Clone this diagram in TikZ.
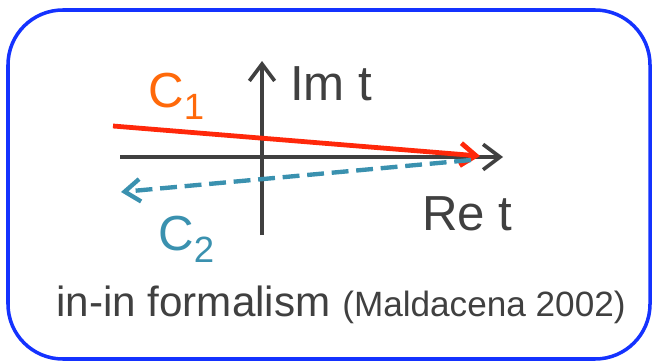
\documentclass[tikz,border=0pt]{standalone}
\usepackage{fontspec}
\setmainfont{Liberation Sans}
\definecolor{frameblue}{RGB}{20,50,255}
\definecolor{axisgray}{RGB}{64,64,64}
\definecolor{cred}{RGB}{255,40,10}
\definecolor{corange}{RGB}{255,105,10}
\definecolor{cteal}{RGB}{58,145,175}
\usetikzlibrary{arrows.meta}
\newcommand{\lowsub}[1]{\raisebox{-9pt}{\fontsize{26}{26}\selectfont #1}}

\begin{document}
\begin{tikzpicture}[x=0.025cm, y=-0.025cm,
  frame/.style={draw=frameblue, line width=2.5pt, rounded corners=39pt},
  axisarr/.style={-{Straight Barb[length=12pt, width=18pt]}, draw=axisgray, line width=2.6pt},
  pathone/.style={-{Straight Barb[length=11pt, width=16pt]}, draw=cred, line width=3.4pt},
  pathtwo/.style={-{Straight Barb[length=11pt, width=16pt]}, draw=cteal, line width=3.1pt,
                  dash pattern=on 12pt off 5.5pt},
  lbl/.style={inner sep=0pt, anchor=base west, font=\fontsize{35}{40}\selectfont}
]
\useasboundingbox (0,0) rectangle (657,362);

% Frame
\draw[frame] (8,10) rectangle (650,359);

% Axes
\coordinate (reL) at (120,157);
\coordinate (reR) at (503,157);
\coordinate (imB) at (262,235);
\coordinate (imT) at (262,61);
\draw[axisarr] (reL) -- (reR);
\draw[axisarr] (imB) -- (imT);

% Contours
\coordinate (oneS) at (113,126);
\coordinate (oneE) at (480,156);
\coordinate (twoS) at (471,160);
\coordinate (twoE) at (121,192);
\draw[pathone] (oneS) -- (oneE);
\draw[pathtwo] (twoS) -- (twoE);

% Labels
\node[lbl, text=axisgray] (imlbl) at (290,100) {Im t};
\node[lbl, text=axisgray] (relbl) at (422,230) {Re t};
\node[lbl, text=corange]  (cone)  at (148,107) {C\lowsub{1}};
\node[lbl, text=cteal]    (ctwo)  at (158,250) {C\lowsub{2}};

% Caption
\node[inner sep=0pt, anchor=base, text=axisgray] (cap) at (341,316)
  {\fontsize{30}{34}\selectfont in-in formalism {\fontsize{25}{30}\selectfont(Maldacena 2002)}};
\end{tikzpicture}
\end{document}
